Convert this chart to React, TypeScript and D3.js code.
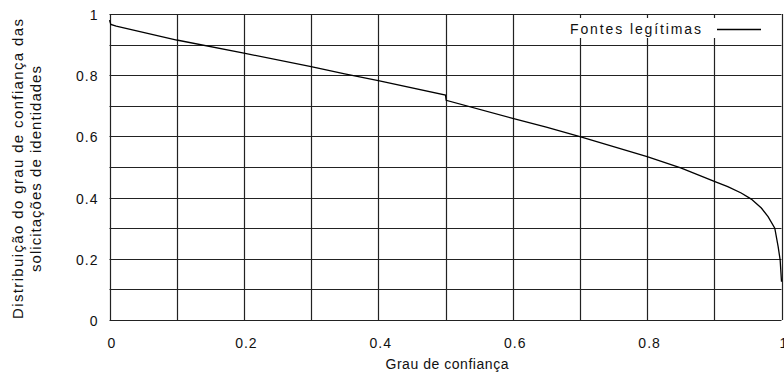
import React, { useRef, useEffect } from "react";
import * as d3 from "d3";

const W = 784;
const H = 376;
const margin = { left: 109.5, right: 2.5, top: 14, bottom: 56 };

// curve
const confidence = [0, 0.002, 0.01, 0.1, 0.2, 0.3, 0.35, 0.4, 0.5, 0.501, 0.6, 0.65, 0.7, 0.8, 0.85, 0.9, 0.92, 0.94, 0.955, 0.97, 0.98, 0.99, 0.995, 0.998, 1.0];
const share = [0.98, 0.966, 0.96, 0.915, 0.872, 0.828, 0.804, 0.782, 0.735, 0.718, 0.659, 0.63, 0.599, 0.534, 0.497, 0.453, 0.436, 0.415, 0.395, 0.366, 0.338, 0.3, 0.24, 0.196, 0.125];

const gridTicks = [0, 0.1, 0.2, 0.3, 0.4, 0.5, 0.6, 0.7, 0.8, 0.9, 1];
const labelTicks = [0, 0.2, 0.4, 0.6, 0.8, 1];
const seriesName = "Fontes legítimas";
const font = "'Liberation Sans', Arial, sans-serif";

function App() {
  const svgRef = useRef<SVGSVGElement>(null);

  useEffect(() => {
    const svg = d3.select(svgRef.current);
    svg.selectAll("*").remove();

    const x = d3.scaleLinear().domain([0, 1]).range([margin.left, W - margin.right]);
    const y = d3.scaleLinear().domain([0, 1]).range([H - margin.bottom, margin.top]);

    const g = svg.append("g");

    // grid
    g.selectAll(".vg")
      .data(gridTicks)
      .join("line")
      .attr("x1", (d) => Math.round(x(d)) + 0.5)
      .attr("x2", (d) => Math.round(x(d)) + 0.5)
      .attr("y1", y(0))
      .attr("y2", y(1))
      .attr("stroke", "#222")
      .attr("stroke-width", 1.2);
    g.selectAll(".hg")
      .data(gridTicks)
      .join("line")
      .attr("y1", (d) => Math.round(y(d)) + 0.5)
      .attr("y2", (d) => Math.round(y(d)) + 0.5)
      .attr("x1", x(0))
      .attr("x2", x(1))
      .attr("stroke", "#222")
      .attr("stroke-width", 1.2);

    // legend box hides grid behind it
    g.append("rect")
      .attr("x", 565)
      .attr("y", 18)
      .attr("width", 205)
      .attr("height", 20)
      .attr("fill", "#fff");

    // tick labels
    const xAxis = d3.axisBottom(x).tickValues(labelTicks).tickSize(0).tickPadding(18).tickFormat(d3.format("~g") as any);
    const xa = svg.append("g").attr("transform", `translate(2,${y(0)})`).call(xAxis);
    xa.select(".domain").remove();
    xa.selectAll("text").attr("font-family", font).attr("font-size", 14).attr("letter-spacing", 1).attr("fill", "#111");

    const yAxis = d3.axisLeft(y).tickValues(labelTicks).tickSize(0).tickPadding(11).tickFormat(d3.format("~g") as any);
    const ya = svg.append("g").attr("transform", `translate(${x(0)},1)`).call(yAxis);
    ya.select(".domain").remove();
    ya.selectAll("text").attr("font-family", font).attr("font-size", 14).attr("letter-spacing", 1).attr("fill", "#111");

    // curve
    const line = d3
      .line<number>()
      .x((d, i) => x(confidence[i]))
      .y((d) => y(d))
      .curve(d3.curveLinear);
    svg.append("path")
      .attr("d", line(share))
      .attr("fill", "none")
      .attr("stroke", "#000")
      .attr("stroke-width", 1.3);

    // legend
    svg.append("text")
      .attr("x", 701)
      .attr("y", 34)
      .attr("text-anchor", "end")
      .attr("font-family", font)
      .attr("font-size", 14)
      .attr("textLength", 131)
      .attr("fill", "#111")
      .text(seriesName);
    svg.append("line")
      .attr("x1", 717)
      .attr("x2", 761)
      .attr("y1", 29.5)
      .attr("y2", 29.5)
      .attr("stroke", "#000")
      .attr("stroke-width", 1.3);

    // axis titles
    svg.append("text")
      .attr("x", 447)
      .attr("y", 369)
      .attr("text-anchor", "middle")
      .attr("font-family", font)
      .attr("font-size", 14)
      .attr("textLength", 123)
      .attr("fill", "#111")
      .text("Grau de confiança");

    const yt = svg.append("g").attr("transform", "translate(23,169) rotate(-90)");
    yt.append("text")
      .attr("x", 0)
      .attr("y", 0)
      .attr("text-anchor", "middle")
      .attr("font-family", font)
      .attr("font-size", 15)
      .attr("textLength", 300)
      .attr("fill", "#111")
      .text("Distribuição do grau de confiança das");
    yt.append("text")
      .attr("x", 0)
      .attr("y", 18)
      .attr("text-anchor", "middle")
      .attr("font-family", font)
      .attr("font-size", 15)
      .attr("textLength", 206)
      .attr("fill", "#111")
      .text("solicitações de identidades");
  }, []);

  return (
    <svg
      ref={svgRef}
      width={W}
      height={H}
      style={{ position: "absolute", left: 0, top: 0, background: "#fff" }}
    />
  );
}

export default App;
